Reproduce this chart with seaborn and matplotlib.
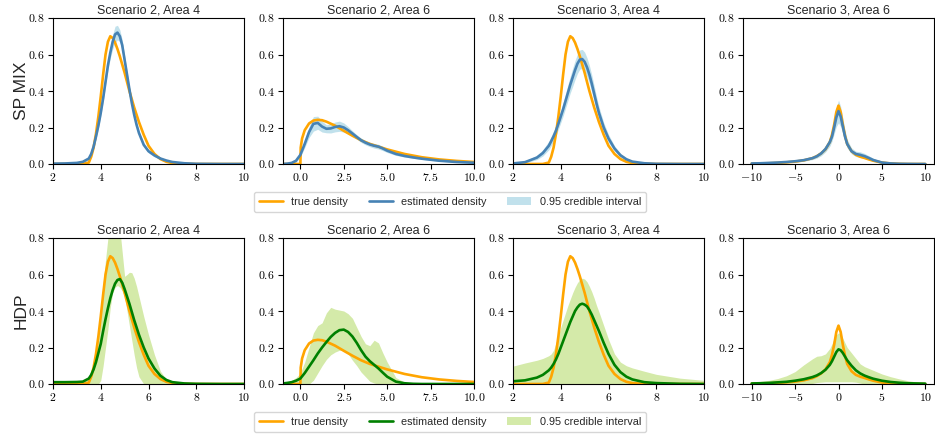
import numpy as np
import pandas as pd
import matplotlib
matplotlib.use("Agg")
import matplotlib.pyplot as plt
import seaborn as sns
from matplotlib.lines import Line2D
from matplotlib.patches import Patch
from matplotlib.ticker import FuncFormatter, FixedLocator

# ---------------- data ----------------
row_labels = ["SP MIX", "HDP"]
titles = ["Scenario 2, Area 4", "Scenario 2, Area 6", "Scenario 3, Area 4", "Scenario 3, Area 6"]
legend_labels = ["true density", "estimated density", "0.95 credible interval"]

x_a4 = [2.0, 2.5, 3.0, 3.25, 3.5, 3.6, 3.7, 3.8, 3.9, 4.0, 4.1, 4.2, 4.3, 4.4, 4.5, 4.6, 4.7, 4.8,
        4.9, 5.0, 5.1, 5.2, 5.3, 5.4, 5.5, 5.6, 5.8, 6.0, 6.25, 6.5, 6.75, 7.0, 7.5, 8.0, 9.0, 10.0]
true_a4 = [0, 0, 0, 0, 0.008, 0.04, 0.09, 0.165, 0.26, 0.37, 0.49, 0.6, 0.67, 0.70, 0.69, 0.665, 0.63, 0.59,
           0.545, 0.5, 0.45, 0.4, 0.355, 0.31, 0.27, 0.23, 0.16, 0.1, 0.055, 0.027, 0.012, 0.005, 0.001, 0, 0, 0]

spmix_s2a4 = [0.002, 0.003, 0.006, 0.012, 0.03, 0.055, 0.095, 0.15, 0.21, 0.28, 0.36, 0.45, 0.54, 0.61, 0.67, 0.71,
              0.72, 0.70, 0.65, 0.57, 0.49, 0.41, 0.335, 0.27, 0.215, 0.17, 0.105, 0.07, 0.047, 0.03, 0.019, 0.011,
              0.004, 0.001, 0, 0]
spmix_s2a4_hi = [0.004, 0.005, 0.009, 0.017, 0.038, 0.065, 0.107, 0.163, 0.225, 0.296, 0.378, 0.47, 0.565, 0.64,
                 0.71, 0.755, 0.76, 0.735, 0.68, 0.595, 0.51, 0.425, 0.35, 0.283, 0.226, 0.18, 0.113, 0.079, 0.055,
                 0.036, 0.024, 0.015, 0.006, 0.002, 0.0005, 0.0002]
spmix_s2a4_lo = [0.0005, 0.001, 0.003, 0.007, 0.022, 0.045, 0.083, 0.137, 0.195, 0.264, 0.342, 0.43, 0.515, 0.58,
                 0.63, 0.665, 0.68, 0.67, 0.625, 0.545, 0.47, 0.395, 0.32, 0.257, 0.204, 0.16, 0.097, 0.061, 0.039,
                 0.024, 0.014, 0.007, 0.002, 0, 0, 0]

spmix_s3a4 = [0.003, 0.01, 0.035, 0.06, 0.1, 0.125, 0.152, 0.183, 0.22, 0.26, 0.3, 0.345, 0.39, 0.435, 0.475, 0.515,
              0.55, 0.572, 0.575, 0.56, 0.53, 0.49, 0.44, 0.385, 0.33, 0.28, 0.2, 0.14, 0.085, 0.048, 0.026, 0.013,
              0.004, 0.001, 0, 0]
spmix_s3a4_hi = [0.006, 0.016, 0.048, 0.078, 0.125, 0.152, 0.18, 0.213, 0.252, 0.295, 0.338, 0.386, 0.434, 0.482,
                 0.526, 0.568, 0.603, 0.625, 0.628, 0.613, 0.582, 0.54, 0.488, 0.428, 0.368, 0.314, 0.227, 0.162,
                 0.1, 0.058, 0.033, 0.018, 0.007, 0.002, 0.0005, 0]
spmix_s3a4_lo = [0.001, 0.005, 0.024, 0.044, 0.078, 0.1, 0.125, 0.155, 0.19, 0.226, 0.263, 0.305, 0.347, 0.39,
                 0.425, 0.463, 0.497, 0.52, 0.523, 0.508, 0.479, 0.441, 0.393, 0.342, 0.292, 0.246, 0.174, 0.118,
                 0.07, 0.038, 0.019, 0.008, 0.002, 0, 0, 0]

hdp_s2a4 = [0.01, 0.01, 0.011, 0.013, 0.03, 0.05, 0.08, 0.12, 0.17, 0.22, 0.29, 0.355, 0.415, 0.47, 0.515, 0.55,
            0.57, 0.575, 0.555, 0.52, 0.48, 0.44, 0.395, 0.35, 0.31, 0.27, 0.2, 0.14, 0.085, 0.045, 0.022, 0.01,
            0.003, 0.001, 0, 0]
hdp_s2a4_hi = [0.015, 0.015, 0.016, 0.018, 0.025, 0.06, 0.12, 0.2, 0.3, 0.42, 0.55, 0.68, 0.8, 0.9, 0.95, 0.95,
               0.92, 0.85, 0.72, 0.59, 0.6, 0.612, 0.61, 0.58, 0.535, 0.48, 0.37, 0.27, 0.16, 0.07, 0.025, 0.007,
               0.002, 0, 0, 0]
hdp_s2a4_lo = [0, 0, 0, 0, 0, 0, 0, 0, 0, 0.02, 0.1, 0.2, 0.3, 0.42, 0.5, 0.53, 0.54, 0.53, 0.51, 0.48, 0.4, 0.32,
               0.24, 0.16, 0.09, 0.04, 0, 0, 0, 0, 0, 0, 0, 0, 0, 0]

hdp_s3a4 = [0.015, 0.02, 0.035, 0.05, 0.075, 0.09, 0.11, 0.135, 0.165, 0.2, 0.235, 0.27, 0.305, 0.34, 0.37, 0.4,
            0.42, 0.435, 0.44, 0.435, 0.425, 0.405, 0.38, 0.35, 0.32, 0.29, 0.225, 0.165, 0.105, 0.065, 0.04, 0.025,
            0.01, 0.005, 0.001, 0]
hdp_s3a4_hi = [0.098, 0.115, 0.13, 0.14, 0.155, 0.165, 0.185, 0.225, 0.265, 0.31, 0.35, 0.39, 0.43, 0.465, 0.5,
               0.53, 0.555, 0.572, 0.58, 0.575, 0.56, 0.535, 0.505, 0.47, 0.43, 0.395, 0.32, 0.245, 0.165, 0.12,
               0.1, 0.088, 0.07, 0.053, 0.032, 0.02]
hdp_s3a4_lo = [0.0] * 36

x_true_s2a6 = [-1.0, 0.0, 0.02, 0.1, 0.25, 0.5, 0.75, 1.0, 1.25, 1.5, 2.0, 2.5, 3.0, 3.5, 4.0, 4.5, 5.0, 6.0,
               7.0, 8.0, 9.0, 10.0]
true_s2a6 = [0, 0, 0.09, 0.14, 0.185, 0.222, 0.238, 0.242, 0.24, 0.232, 0.21, 0.182, 0.155, 0.13, 0.11, 0.095,
             0.08, 0.055, 0.037, 0.025, 0.017, 0.011]

x_s2a6 = [-1.0, -0.75, -0.5, -0.25, 0.0, 0.25, 0.5, 0.75, 1.0, 1.25, 1.5, 1.75, 2.0, 2.25, 2.5, 2.75, 3.0, 3.25,
          3.5, 3.75, 4.0, 4.25, 4.5, 4.75, 5.0, 5.5, 6.0, 6.5, 7.0, 8.0, 9.0, 10.0]
spmix_s2a6 = [0.0, 0.002, 0.006, 0.018, 0.05, 0.11, 0.175, 0.22, 0.225, 0.205, 0.193, 0.195, 0.203, 0.207, 0.2,
              0.185, 0.167, 0.148, 0.13, 0.117, 0.107, 0.1, 0.095, 0.085, 0.073, 0.055, 0.044, 0.036, 0.029,
              0.018, 0.011, 0.007]
spmix_s2a6_hi = [0.001, 0.004, 0.01, 0.026, 0.062, 0.13, 0.205, 0.26, 0.262, 0.235, 0.215, 0.22, 0.23, 0.235,
                 0.225, 0.205, 0.182, 0.16, 0.142, 0.129, 0.119, 0.113, 0.108, 0.097, 0.083, 0.063, 0.05, 0.041,
                 0.033, 0.021, 0.013, 0.009]
spmix_s2a6_lo = [0, 0.001, 0.003, 0.01, 0.038, 0.09, 0.145, 0.18, 0.19, 0.175, 0.171, 0.17, 0.176, 0.179, 0.175,
                 0.165, 0.152, 0.136, 0.118, 0.105, 0.095, 0.087, 0.082, 0.073, 0.063, 0.047, 0.038, 0.031, 0.025,
                 0.015, 0.009, 0.005]
hdp_s2a6 = [0.003, 0.006, 0.01, 0.018, 0.03, 0.06, 0.095, 0.13, 0.167, 0.2, 0.23, 0.258, 0.28, 0.295, 0.298,
            0.285, 0.26, 0.225, 0.185, 0.15, 0.125, 0.105, 0.085, 0.062, 0.04, 0.013, 0.004, 0.001, 0, 0, 0, 0]
hdp_s2a6_hi = [0.005, 0.01, 0.02, 0.035, 0.06, 0.12, 0.2, 0.28, 0.32, 0.335, 0.39, 0.42, 0.41, 0.405, 0.4, 0.385,
               0.36, 0.31, 0.26, 0.22, 0.21, 0.24, 0.225, 0.17, 0.12, 0.035, 0.01, 0.003, 0.001, 0, 0, 0]
hdp_s2a6_lo = [0, 0, 0, 0, 0, 0, 0, 0.02, 0.06, 0.1, 0.135, 0.16, 0.175, 0.185, 0.185, 0.165, 0.13, 0.1, 0.065,
               0.04, 0.015, 0.005, 0, 0, 0, 0, 0, 0, 0, 0, 0, 0]

x_s3a6 = [-10, -9, -8, -7, -6, -5, -4, -3, -2.5, -2, -1.5, -1, -0.75, -0.5, -0.25, 0, 0.25, 0.5, 0.75, 1, 1.5, 2,
          2.5, 3, 3.5, 4, 5, 6, 7, 8, 9, 10]
true_s3a6 = [0.002, 0.003, 0.004, 0.006, 0.009, 0.013, 0.02, 0.032, 0.043, 0.058, 0.08, 0.12, 0.16, 0.215, 0.285,
             0.32, 0.285, 0.215, 0.155, 0.11, 0.07, 0.05, 0.04, 0.033, 0.025, 0.018, 0.008, 0.003, 0.001, 0, 0, 0]
spmix_s3a6 = [0.003, 0.004, 0.006, 0.008, 0.011, 0.015, 0.021, 0.032, 0.042, 0.058, 0.082, 0.12, 0.15, 0.2, 0.255,
              0.29, 0.26, 0.205, 0.15, 0.11, 0.07, 0.055, 0.05, 0.043, 0.033, 0.022, 0.008, 0.003, 0.001, 0.0005,
              0, 0]
spmix_s3a6_hi = [0.005, 0.006, 0.008, 0.011, 0.015, 0.02, 0.028, 0.042, 0.054, 0.072, 0.1, 0.145, 0.18, 0.24,
                 0.31, 0.35, 0.315, 0.25, 0.185, 0.135, 0.088, 0.07, 0.067, 0.058, 0.045, 0.031, 0.013, 0.005,
                 0.002, 0.001, 0.0005, 0]
spmix_s3a6_lo = [0.001, 0.002, 0.004, 0.005, 0.007, 0.01, 0.015, 0.024, 0.032, 0.045, 0.066, 0.097, 0.125, 0.165,
                 0.205, 0.225, 0.205, 0.165, 0.12, 0.088, 0.055, 0.041, 0.035, 0.03, 0.022, 0.014, 0.004, 0.001,
                 0, 0, 0, 0]
hdp_s3a6 = [0.003, 0.004, 0.006, 0.009, 0.012, 0.018, 0.026, 0.038, 0.047, 0.06, 0.078, 0.105, 0.125, 0.15, 0.175,
            0.19, 0.185, 0.17, 0.15, 0.13, 0.1, 0.075, 0.058, 0.046, 0.037, 0.029, 0.018, 0.011, 0.007, 0.004,
            0.003, 0.002]
hdp_s3a6_hi = [0.012, 0.015, 0.02, 0.03, 0.045, 0.068, 0.105, 0.138, 0.152, 0.155, 0.165, 0.195, 0.22, 0.25, 0.27,
               0.28, 0.275, 0.25, 0.225, 0.2, 0.17, 0.14, 0.11, 0.095, 0.085, 0.075, 0.055, 0.04, 0.028, 0.018,
               0.011, 0.006]
hdp_s3a6_lo = [0, 0, 0, 0, 0, 0, 0, 0.003, 0.008, 0.01, 0.012, 0.012, 0.012, 0.012, 0.012, 0.012, 0.012, 0.012,
               0.012, 0.012, 0.012, 0.01, 0.005, 0, 0, 0, 0, 0, 0, 0, 0, 0]

xlims = [(2, 10), (-1, 10), (2, 10), (-11, 11)]
xticks = [[2, 4, 6, 8, 10], [0.0, 2.5, 5.0, 7.5, 10.0], [2, 4, 6, 8, 10], [-10, -5, 0, 5, 10]]
yticks = [0.0, 0.2, 0.4, 0.6, 0.8]

# ---------------- styling ----------------
sns.set_style("ticks")
plt.rcParams["font.family"] = ["Liberation Sans", "DejaVu Sans"]
plt.rcParams["mathtext.fontset"] = "cm"

ORANGE = "#FFA500"
BLUE = "#4682B4"
BAND_BLUE = "#ADD8E6"
GREEN = "#008000"
BAND_GREEN = "#9ACD32"

panels = [
    # row 0 : SP MIX
    [(x_a4, true_a4, x_a4, spmix_s2a4, spmix_s2a4_lo, spmix_s2a4_hi),
     (x_true_s2a6, true_s2a6, x_s2a6, spmix_s2a6, spmix_s2a6_lo, spmix_s2a6_hi),
     (x_a4, true_a4, x_a4, spmix_s3a4, spmix_s3a4_lo, spmix_s3a4_hi),
     (x_s3a6, true_s3a6, x_s3a6, spmix_s3a6, spmix_s3a6_lo, spmix_s3a6_hi)],
    # row 1 : HDP
    [(x_a4, true_a4, x_a4, hdp_s2a4, hdp_s2a4_lo, hdp_s2a4_hi),
     (x_true_s2a6, true_s2a6, x_s2a6, hdp_s2a6, hdp_s2a6_lo, hdp_s2a6_hi),
     (x_a4, true_a4, x_a4, hdp_s3a4, hdp_s3a4_lo, hdp_s3a4_hi),
     (x_s3a6, true_s3a6, x_s3a6, hdp_s3a6, hdp_s3a6_lo, hdp_s3a6_hi)],
]
row_colors = [(BLUE, BAND_BLUE, 0.75), (GREEN, BAND_GREEN, 0.42)]

W, H = 935, 437
fig = plt.figure(figsize=(W / 100, H / 100), dpi=100)

lefts = [53, 283, 513, 743]
tops = [18, 238]
aw, ah = 191, 146

for r in range(2):
    line_c, band_c, band_a = row_colors[r]
    for c in range(4):
        xt, yt, xe, ye, lo, hi = panels[r][c]
        ax = fig.add_axes([lefts[c] / W, 1 - (tops[r] + ah) / H, aw / W, ah / H])
        ax.fill_between(xe, lo, hi, color=band_c, alpha=band_a, lw=0)
        sns.lineplot(x=xt, y=yt, ax=ax, color=ORANGE, lw=1.9, estimator=None, sort=False)
        sns.lineplot(x=xe, y=ye, ax=ax, color=line_c, lw=1.9, estimator=None, sort=False)
        ax.set_xlim(*xlims[c])
        ax.set_ylim(0, 0.8)
        ax.xaxis.set_major_locator(FixedLocator(xticks[c]))
        ax.yaxis.set_major_locator(FixedLocator(yticks))
        if c == 1:
            ax.xaxis.set_major_formatter(FuncFormatter(lambda v, p: f"${v:.1f}$"))
        else:
            ax.xaxis.set_major_formatter(FuncFormatter(lambda v, p: f"${v:g}$"))
        ax.yaxis.set_major_formatter(FuncFormatter(lambda v, p: f"${v:.1f}$"))
        ax.tick_params(axis="both", direction="out", length=3.5, width=0.8, labelsize=8.5, pad=2.5,
                       colors="black")
        for s in ax.spines.values():
            s.set_linewidth(0.8)
            s.set_color("black")
        ax.set_title(titles[c], fontsize=9, pad=3.5)
        ax.set_xlabel("")
        ax.set_ylabel("")

    fig.text(21 / W, 1 - (tops[r] + ah / 2) / H, row_labels[r], rotation=90, ha="center", va="center",
             fontsize=12.5)

    handles = [Line2D([], [], color=ORANGE, lw=1.9),
               Line2D([], [], color=line_c, lw=1.9),
               Patch(facecolor=band_c, alpha=band_a, edgecolor="none")]
    yc = 1 - (202 if r == 0 else 422) / H
    fig.legend(handles, legend_labels, loc="center", bbox_to_anchor=(450 / W, yc), ncol=3, fontsize=7.8,
               frameon=True, handlelength=2.2, columnspacing=1.9, borderpad=0.45, handletextpad=0.8,
               edgecolor="#cccccc", fancybox=True)

fig.savefig("out.png", dpi=100)
